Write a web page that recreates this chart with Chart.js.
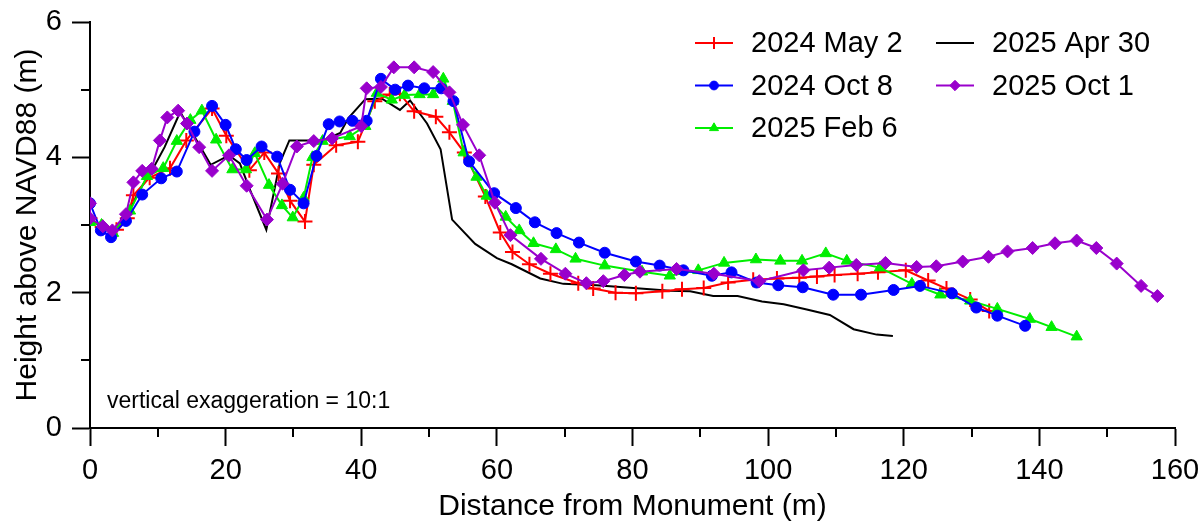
<!DOCTYPE html>
<html>
<head>
<meta charset="utf-8">
<script src="https://cdn.jsdelivr.net/npm/chart.js@4.4.1/dist/chart.umd.min.js"></script>
<style>
  html, body { margin: 0; padding: 0; background: #fff; }
  #wrap { width: 1201px; height: 524px; position: relative; }
</style>
</head>
<body>
<div id="wrap"><canvas id="profile" width="1201" height="524"></canvas></div>
<script>
// DATA (distance in m, height in m)
const seriesLabels = ["2024 May 2", "2024 Oct 8", "2025 Feb 6", "2025 Apr 30", "2025 Oct 1"];

const may2X = [0, 1.8, 3.9, 5.5, 6.4, 8.8, 11.8, 14.2, 18.0, 20.1, 23.5, 25.7, 27.8, 29.5, 31.7, 33.0, 36.3, 39.5, 42.0, 44.2, 45.7, 47.8, 51.0, 53.0, 55.2, 58.3, 60.5, 62.3, 64.8, 67.9, 72.0, 74.2, 77.5, 80.5, 84.4, 87.3, 90.5, 94.1, 97.8, 101.3, 104.6, 107.2, 109.8, 113.2, 116.2, 120.3, 123.6, 126.3, 129.8, 132.6];
const may2Y = [3.10, 2.97, 2.93, 3.10, 3.44, 3.70, 3.84, 4.25, 4.72, 4.32, 3.81, 4.07, 3.76, 3.36, 3.05, 3.89, 4.18, 4.23, 4.83, 4.93, 4.94, 4.68, 4.60, 4.37, 4.07, 3.42, 2.89, 2.60, 2.42, 2.28, 2.14, 2.06, 2.00, 1.99, 2.02, 2.05, 2.07, 2.15, 2.19, 2.21, 2.22, 2.24, 2.26, 2.28, 2.30, 2.33, 2.18, 2.06, 1.90, 1.73];

const oct8X = [0, 1.6, 3.1, 5.3, 7.7, 10.5, 12.8, 15.4, 18.0, 20.0, 21.5, 23.1, 25.3, 27.6, 29.5, 31.5, 33.4, 35.2, 36.8, 38.7, 40.8, 42.9, 45.0, 46.9, 49.3, 51.8, 53.6, 55.9, 59.6, 62.8, 65.6, 68.8, 72.1, 75.9, 80.5, 84.0, 87.5, 91.7, 94.6, 98.3, 101.5, 105.1, 109.6, 113.7, 118.5, 122.4, 127.1, 130.7, 133.8, 137.9];
const oct8Y = [3.32, 2.92, 2.82, 3.06, 3.45, 3.69, 3.79, 4.38, 4.76, 4.48, 4.12, 3.96, 4.16, 4.01, 3.52, 3.32, 4.02, 4.49, 4.53, 4.54, 4.54, 5.16, 5.00, 5.06, 5.02, 5.02, 4.83, 3.94, 3.47, 3.25, 3.04, 2.88, 2.74, 2.59, 2.46, 2.40, 2.33, 2.25, 2.30, 2.15, 2.11, 2.08, 1.97, 1.97, 2.04, 2.10, 1.99, 1.78, 1.66, 1.51];

const feb6X = [0, 1.7, 3.4, 5.9, 8.4, 10.8, 12.8, 14.8, 16.5, 18.6, 21.0, 23.0, 24.3, 26.4, 28.3, 29.9, 31.5, 32.8, 34.3, 38.3, 40.6, 42.3, 44.5, 46.4, 48.6, 50.6, 52.1, 53.5, 55.1, 57.0, 58.5, 61.3, 63.3, 65.4, 68.7, 71.6, 75.9, 81.4, 85.5, 89.7, 93.5, 98.2, 101.8, 105.0, 108.5, 111.6, 116.5, 121.2, 125.4, 129.8, 133.8, 138.6, 141.8, 145.5];
const feb6Y = [3.04, 3.00, 2.88, 3.21, 3.72, 3.84, 4.24, 4.55, 4.69, 4.26, 3.82, 3.82, 4.06, 3.59, 3.29, 3.11, 3.40, 4.00, 4.24, 4.31, 4.46, 4.95, 4.85, 4.92, 4.93, 4.93, 5.16, 4.83, 4.07, 3.71, 3.43, 3.12, 2.92, 2.73, 2.64, 2.50, 2.40, 2.31, 2.25, 2.33, 2.44, 2.49, 2.47, 2.47, 2.58, 2.47, 2.37, 2.13, 1.97, 1.88, 1.76, 1.61, 1.49, 1.35];

const apr30X = [0, 1.8, 3.4, 5.4, 7.2, 9.0, 11.0, 13.3, 17.8, 20.5, 22.1, 23.6, 26.0, 28.0, 29.4, 32.0, 34.4, 36.9, 38.1, 40.6, 43.0, 45.7, 47.2, 49.7, 51.7, 53.4, 56.8, 60.0, 62.2, 66.4, 69.8, 74.7, 82.6, 85.5, 88.5, 91.9, 95.5, 99.1, 102.3, 105.7, 109.1, 112.6, 116.0, 118.4];
const apr30Y = [3.08, 2.97, 2.90, 3.12, 3.50, 3.78, 4.15, 4.67, 3.89, 4.03, 3.91, 3.52, 2.93, 3.92, 4.25, 4.25, 4.25, 4.36, 4.58, 4.86, 4.87, 4.70, 4.84, 4.50, 4.12, 3.08, 2.72, 2.51, 2.42, 2.21, 2.13, 2.11, 2.05, 2.03, 2.02, 1.95, 1.95, 1.87, 1.83, 1.75, 1.67, 1.46, 1.38, 1.36];

const oct1X = [0, 0, 1.9, 3.3, 5.3, 6.4, 7.7, 9.1, 10.3, 11.4, 13.0, 14.3, 16.1, 18.0, 20.5, 23.1, 26.1, 28.4, 30.5, 33.0, 35.7, 40.0, 40.8, 42.9, 44.8, 47.8, 50.6, 53.0, 55.0, 57.4, 59.7, 62.0, 66.5, 70.1, 73.2, 75.7, 78.8, 81.1, 86.5, 92.0, 98.7, 105.2, 109.0, 113.0, 117.3, 121.9, 124.8, 128.7, 132.5, 135.3, 139.0, 142.3, 145.5, 148.4, 151.4, 155.0, 157.4];
const oct1Y = [3.32, 3.10, 2.98, 2.92, 3.16, 3.63, 3.80, 3.83, 4.25, 4.59, 4.69, 4.50, 4.15, 3.80, 4.03, 3.58, 3.08, 3.61, 4.16, 4.24, 4.28, 4.46, 5.02, 5.04, 5.33, 5.33, 5.26, 4.96, 4.48, 4.03, 3.33, 2.85, 2.50, 2.28, 2.14, 2.17, 2.26, 2.31, 2.35, 2.28, 2.17, 2.33, 2.37, 2.41, 2.44, 2.38, 2.39, 2.46, 2.53, 2.61, 2.66, 2.73, 2.77, 2.66, 2.43, 2.10, 1.95];

const xTicks = [0, 20, 40, 60, 80, 100, 120, 140, 160];
const yTicks = [0, 2, 4, 6];
const xMinor = [10, 30, 50, 70, 90, 110, 130, 150];
const yMinor = [1, 3, 5];

const FONT = "'Liberation Sans', Arial, sans-serif";

function pts(xs, ys) {
  return xs.map((x, i) => ({ x: x, y: ys[i] }));
}

// STYLE PER SERIES (legend column/row follows this order)
const styles = [
  { color: "#ff0000", pointStyle: "cross", radius: 7.5, order: 3 },
  { color: "#0000ff", pointStyle: "circle", radius: 5.5, order: 1 },
  { color: "#00ee00", pointStyle: "triangle", radius: 6.5, order: 2 },
  { color: "#000000", pointStyle: false, radius: 0, order: 4 },
  { color: "#9900cc", pointStyle: "rectRot", radius: 6.5, order: 0 }
];
const seriesData = [pts(may2X, may2Y), pts(oct8X, oct8Y), pts(feb6X, feb6Y), pts(apr30X, apr30Y), pts(oct1X, oct1Y)];

const datasets = seriesData.map((d, i) => {
  const s = styles[i];
  return {
    label: seriesLabels[i],
    data: d,
    showLine: true,
    borderColor: s.color,
    backgroundColor: s.color,
    borderWidth: 2,
    pointStyle: s.pointStyle || "circle",
    pointRadius: s.radius,
    pointBorderWidth: s.pointStyle === "cross" ? 2 : 1,
    pointBorderColor: s.color,
    pointBackgroundColor: s.color,
    tension: 0,
    order: s.order
  };
});

// MINOR TICKS + NOTE + LEGEND
const extras = {
  id: "extras",
  afterDraw(chart) {
    const ctx = chart.ctx;
    const xs = chart.scales.x;
    const ys = chart.scales.y;
    const area = chart.chartArea;

    ctx.save();
    ctx.strokeStyle = "#000";
    ctx.lineWidth = 2;
    ctx.beginPath();
    xMinor.forEach(v => {
      const px = Math.round(xs.getPixelForValue(v));
      ctx.moveTo(px, area.bottom);
      ctx.lineTo(px, area.bottom + 9);
    });
    yMinor.forEach(v => {
      const py = Math.round(ys.getPixelForValue(v));
      ctx.moveTo(area.left, py);
      ctx.lineTo(area.left - 9, py);
    });
    ctx.stroke();

    // note
    ctx.fillStyle = "#000";
    ctx.font = "23px " + FONT;
    ctx.textAlign = "left";
    ctx.textBaseline = "middle";
    ctx.fillText("vertical exaggeration = 10:1", area.left + 17, 402);

    // legend, two columns
    ctx.font = "29px " + FONT;
    chart.data.datasets.forEach((ds, i) => {
      const col = i < 3 ? 0 : 1;
      const row = i < 3 ? i : i - 3;
      const x0 = 695 + col * 241;
      const cy = 43 + row * 42.5;
      ctx.strokeStyle = ds.borderColor;
      ctx.lineWidth = 2;
      ctx.beginPath();
      ctx.moveTo(x0, cy);
      ctx.lineTo(x0 + 38, cy);
      ctx.stroke();
      if (ds.pointRadius > 0 && Chart.helpers && Chart.helpers.drawPoint) {
        ctx.fillStyle = ds.pointBackgroundColor;
        ctx.strokeStyle = ds.pointBorderColor;
        ctx.lineWidth = ds.pointBorderWidth;
        Chart.helpers.drawPoint(ctx, {
          pointStyle: ds.pointStyle,
          radius: ds.pointRadius * 0.8,
          rotation: 0,
          borderWidth: ds.pointBorderWidth
        }, x0 + 19, cy);
      }
      ctx.fillStyle = "#000";
      ctx.fillText(ds.label, x0 + 56, cy + 1);
    });
    ctx.restore();
  }
};

// CHART
Chart.defaults.font.family = FONT;
Chart.defaults.color = "#000";

new Chart(document.getElementById("profile"), {
  type: "scatter",
  data: { datasets: datasets },
  options: {
    responsive: false,
    animation: false,
    layout: { padding: { top: 22, right: 26, left: 0, bottom: 0 } },
    plugins: {
      legend: { display: false },
      tooltip: { enabled: false }
    },
    scales: {
      x: {
        type: "linear",
        min: 0,
        max: 160,
        afterBuildTicks: s => { s.ticks = xTicks.map(v => ({ value: v })); },
        afterFit: s => { s.height = 96; s.paddingLeft = 0; s.paddingRight = 0; },
        ticks: { font: { size: 29 }, padding: 8, maxRotation: 0, color: "#000" },
        grid: { drawOnChartArea: false, drawTicks: true, tickLength: 18, tickWidth: 2, tickColor: "#000" },
        border: { display: true, color: "#000", width: 2 },
        title: {
          display: true,
          text: "Distance from Monument (m)",
          font: { size: 30, lineHeight: 1.05 },
          color: "#000",
          padding: { top: 0, bottom: 2 }
        }
      },
      y: {
        type: "linear",
        min: 0,
        max: 6,
        afterBuildTicks: s => { s.ticks = yTicks.map(v => ({ value: v })); },
        afterFit: s => { s.width = 90; s.paddingTop = 0; s.paddingBottom = 0; },
        ticks: { font: { size: 29 }, padding: 10, color: "#000" },
        grid: { drawOnChartArea: false, drawTicks: true, tickLength: 18, tickWidth: 2, tickColor: "#000" },
        border: { display: true, color: "#000", width: 2 },
        title: {
          display: true,
          text: "Height above NAVD88 (m)",
          font: { size: 30 },
          color: "#000",
          padding: { top: 10, bottom: 0 }
        }
      }
    }
  },
  plugins: [extras]
});
</script>
</body>
</html>
